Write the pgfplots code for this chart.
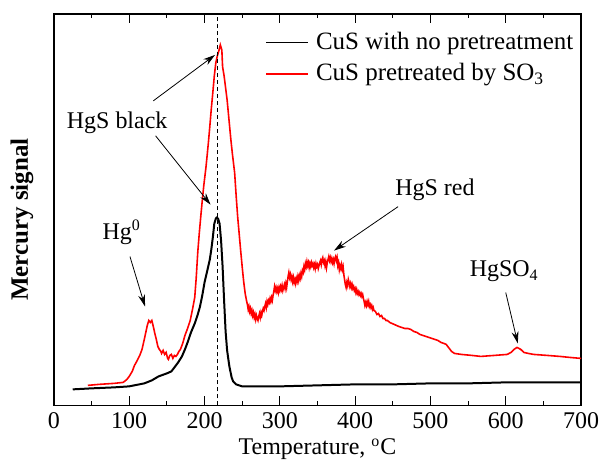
\documentclass[border=0pt]{standalone}
\usepackage{fontspec}
\setmainfont{Liberation Serif}
\usepackage{pgfplots}
\pgfplotsset{compat=1.18}
\usetikzlibrary{arrows.meta}
\begin{document}
\begin{tikzpicture}[font=\fontsize{12}{14.4}\selectfont]
\begin{axis}[
  scale only axis,
  width=264pt, height=196pt,
  xmin=0, xmax=700, ymin=0, ymax=392,
  xtick={0,100,...,700},
  minor xtick={50,150,...,650},
  ytick=\empty,
  minor ytick={35.64,71.27,106.9,142.5,178.2,213.8,249.5,285.1,320.7,356.4},
  tick align=inside,
  major tick length=4.5pt,
  minor tick length=2.2pt,
  axis line style={line width=0.6pt},
  every tick/.style={black, line width=0.5pt},
  /pgf/number format/assume math mode=true,
  xticklabel style={font=\fontsize{12}{14.4}\selectfont},
  clip=false,
  legend style={at={(axis cs:280,377)}, anchor=north west, draw=none, fill=none,
    inner sep=0pt, row sep=2.5pt, font=\fontsize{12.5}{15}\selectfont,
    nodes={inner sep=1.5pt},
    /tikz/every odd column/.append style={column sep=2pt}},
  legend cell align=left,
  legend image code/.code={\draw[#1] (0pt,0pt) -- (21pt,0pt);},
]
\addplot[black, line width=1pt] coordinates {
(25,16) (50,17) (80,18) (100,19) (120,22) (130,25) (139,29) (150,32) (156,34) (160,38)
(165,43) (170,49) (174,56) (178,64) (182,73) (187,82) (191,91) (194,99) (197,110)
(200,123) (204,136) (207,146) (209,156) (211,168) (213,182) (215,187) (216,188)
(218,187) (220,182) (222,165) (224,139) (226,105) (228,74) (230,55) (233,39)
(236,28) (238,24) (242,21) (250,19) (270,19) (300,19) (350,20) (400,21) (450,21)
(500,22) (550,22) (600,23) (650,23) (700,23)
};
\addlegendentry{CuS with no pretreatment}
\addplot[red, line width=0.8pt] coordinates {
(45,20) (60,21) (80,22) (92,23) (97,26) (100,29) (104,34) (107,40) (110,44) (114,50)
(117,56) (120,66) (122,73) (124,80) (126,85) (128,83) (130,85) (132,79) (134,72)
(136,66) (138,59) (140,56) (142,54) (143,52) (145,55) (147,51) (149,53) (151,47)
(152,46) (154,50) (156,51) (158,47) (160,50) (162,49) (164,51) (166,54) (168,56)
(171,62) (174,70) (177,76) (181,85) (184,96) (187,108) (189,128) (191,153)
(193,172) (195,189) (197,205) (199,220) (202,239) (205,262) (207,279) (209,297)
(211,313) (213,330) (215,343) (217,350) (219,355) (221,361) (223,356) (224,339)
(226,330) (228,318) (230,306) (232,290) (235,266) (237,252) (240,233) (242,210)
(244,189) (246,172) (248,155)
(250,139) (252,124) (254,112) (256,104) (257,101) (258,96) (259,99) (260,94) (261,97)
(262,92) (263,95) (264,90) (265,93) (266,88) (267,91) (268,86) (269,90) (270,87)
(271,85) (272,89) (273,92) (274,88) (275,93) (276,90) (277,94) (278,97) (279,95)
(280,99) (281,102) (282,98) (283,104) (284,101) (285,105) (286,103) (287,107)
(288,104) (289,108) (290,105) (291,110) (292,114) (293,119) (294,115) (295,118)
(296,114) (297,117) (298,113) (299,118) (300,115) (301,119) (302,116) (303,120)
(304,115) (305,118) (306,121) (307,117) (308,122) (309,118) (310,124) (311,129)
(312,133) (313,128) (314,131) (315,126) (316,129) (317,124) (318,128) (319,123)
(320,126) (321,122) (322,127) (323,124) (324,129) (325,125) (326,130) (327,127)
(328,132) (329,129) (330,135) (331,133) (332,139) (333,136) (334,142) (335,139)
(336,144) (337,140) (338,143) (339,138) (340,142) (341,139) (342,143) (343,140)
(344,142) (345,138) (346,141) (347,137) (348,142) (349,139) (350,141) (351,137)
(352,140) (353,143) (354,145) (355,141) (356,146) (357,148) (358,143) (359,145)
(360,140) (361,144) (362,138) (363,143) (364,146) (365,149) (366,145) (367,148)
(368,144) (369,147) (370,143) (371,146) (372,142) (373,147) (374,149) (375,145)
(376,148) (377,140) (378,143) (379,136) (380,140) (381,137) (382,141) (383,136)
(384,139) (385,131) (386,126) (387,121) (388,118) (389,123) (390,120) (391,126)
(392,123) (393,119) (394,122) (395,118) (396,121) (397,117) (398,119) (399,115)
(400,117) (401,113) (402,116) (403,112) (404,114) (405,111) (406,113) (407,110)
(408,112) (409,109) (410,111) (411,107) (412,104) (413,100) (414,103) (415,100)
(416,104) (417,101) (418,104) (419,99) (420,101) (421,98) (422,100) (423,96)
(424,98) (425,95) (427,94) (429,91) (431,92) (433,89) (435,90) (437,87) (439,87)
(441,85) (443,85) (446,83) (449,82) (452,81) (455,80) (458,79) (462,78) (466,77)
(470,77) (474,76) (478,74) (482,73) (486,71) (490,70) (494,69) (498,68) (502,67)
(506,66) (510,65) (514,63) (518,62) (521,61) (524,58) (528,54) (532,52) (541,51)
(555,50) (567,49) (585,50) (602,51) (607,53) (611,56) (615,58) (620,56) (624,53)
(630,52) (637,51) (655,50) (672,49) (685,48) (700,47)
};
\addlegendentry{CuS pretreated by SO\textsubscript{3}}
\addplot[black, line width=0.4pt, dash pattern=on 2pt off 1.5pt, forget plot] coordinates {(217,0) (217,392)};
% annotations
\node at (axis cs:84,283) {HgS black};
\draw[line width=0.4pt, -{Stealth[length=6pt,width=3.5pt]}] (axis cs:132,305) -- (axis cs:214,351);
\draw[line width=0.4pt, -{Stealth[length=6pt,width=3.5pt]}] (axis cs:135,270) -- (axis cs:208,201);
\node at (axis cs:90,173) {Hg\textsuperscript{0}};
\draw[line width=0.4pt, -{Stealth[length=6pt,width=3.5pt]}] (axis cs:101,149) -- (axis cs:121,99);
\node at (axis cs:506,216) {HgS red};
\draw[line width=0.4pt, -{Stealth[length=6pt,width=3.5pt]}] (axis cs:457,199) -- (axis cs:372,155);
\node at (axis cs:598,134) {HgSO\textsubscript{4}};
\draw[line width=0.4pt, -{Stealth[length=6pt,width=3.5pt]}] (axis cs:600,113) -- (axis cs:616,62);
\end{axis}
\node[rotate=90, font=\fontsize{12.5}{15}\selectfont\bfseries] at ([xshift=-16pt,yshift=-5pt]current axis.west) {Mercury signal};
\node at ([yshift=-22pt]current axis.south) {Temperature, \textsuperscript{o}C};
\pgfresetboundingbox
\path[use as bounding box] ([xshift=-27pt,yshift=-30pt]current axis.south west) rectangle ([xshift=9.5pt,yshift=7pt]current axis.north east);
\end{tikzpicture}
\end{document}
